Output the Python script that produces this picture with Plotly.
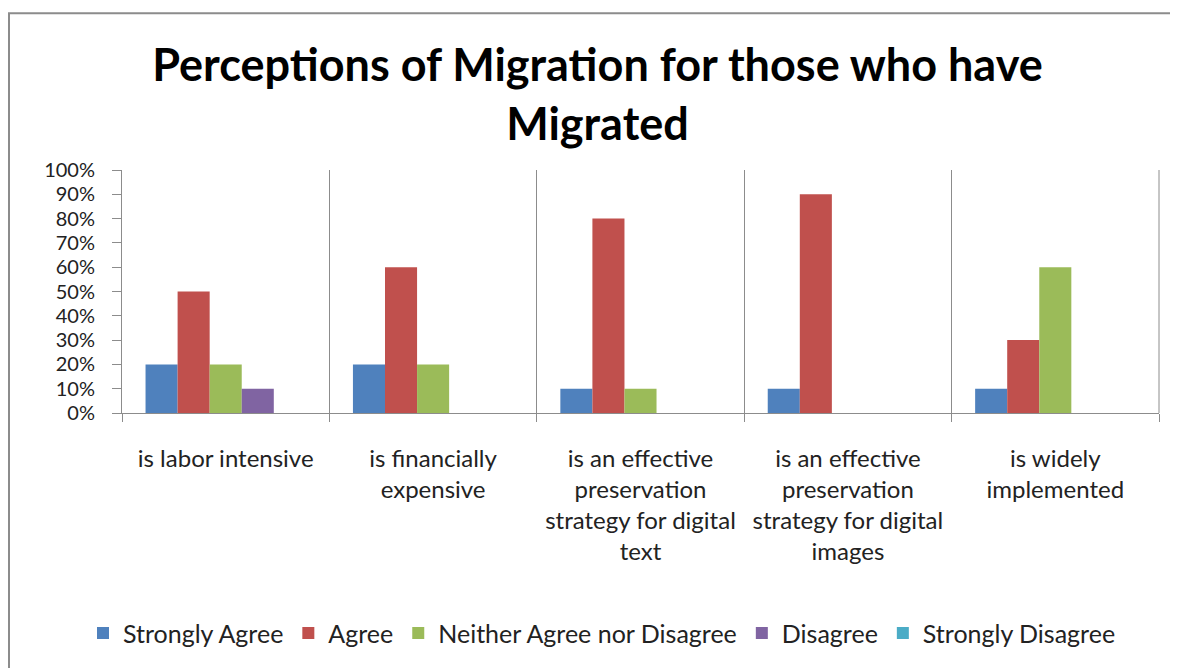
import plotly.graph_objects as go

categories = [
    "is labor intensive",
    "is financially<br>expensive",
    "is an effective<br>preservation<br>strategy for digital<br>text",
    "is an effective<br>preservation<br>strategy for digital<br>images",
    "is widely<br>implemented",
]
strongly_agree = [0.20, 0.20, 0.10, 0.10, 0.10]
agree = [0.50, 0.60, 0.80, 0.90, 0.30]
neither = [0.20, 0.20, 0.10, 0.00, 0.60]
disagree = [0.10, 0.00, 0.00, 0.00, 0.00]
strongly_disagree = [0.00, 0.00, 0.00, 0.00, 0.00]

series = [
    ("Strongly Agree", strongly_agree, "#4F81BD"),
    ("Agree", agree, "#C0504D"),
    ("Neither Agree nor Disagree", neither, "#9BBB59"),
    ("Disagree", disagree, "#8064A2"),
    ("Strongly Disagree", strongly_disagree, "#4BACC6"),
]

# page body has an 8px margin, so figure coords = screen coords - 8
W, H = 1170, 660
L, R, T, B = 114, 19, 162, 253
pw, ph = W - L - R, H - T - B

fig = go.Figure()
for name, vals, col in series:
    fig.add_trace(go.Bar(x=categories, y=vals, name=name, marker_color=col,
                         marker_line_width=0))

FONT = "Lato"
fig.update_layout(
    width=W, height=H,
    margin=dict(l=L, r=R, t=T, b=B),
    paper_bgcolor="white", plot_bgcolor="white",
    barmode="group", bargap=0.227, bargroupgap=0,
    font=dict(family=FONT, color="#222222"),
    title=dict(text="<b>Perceptions of Migration for those who have<br>Migrated</b>",
               x=589.5 / W, xanchor="center", y=(H - 73) / H, yanchor="middle",
               font=dict(size=45, color="black", family=FONT)),
    legend=dict(orientation="h", x=(594 - L) / pw, xanchor="center",
                y=(T + ph - 629) / ph, yanchor="middle",
                font=dict(size=25, family=FONT, color="#222222"),
                itemwidth=30, traceorder="normal"),
    showlegend=True,
)
fig.update_xaxes(
    showline=True, linecolor="#8c8c8c", linewidth=1,
    ticks="outside", ticklen=8, tickcolor="#8c8c8c", tickson="boundaries",
    showgrid=True, gridcolor="#8c8c8c", gridwidth=1,
    tickfont=dict(size=24, family=FONT, color="#222222"),
    ticklabelstandoff=24,
    fixedrange=True,
)
fig.update_yaxes(
    range=[0, 1], tickformat=".0%", dtick=0.1,
    showline=True, linecolor="#8c8c8c", linewidth=1,
    ticks="outside", ticklen=9, tickcolor="#8c8c8c",
    showgrid=False, zeroline=False,
    tickfont=dict(size=20, family=FONT, color="#222222"),
    ticklabelstandoff=13,
)
# right boundary line of the plot area
fig.add_shape(type="line", xref="paper", yref="paper", x0=1, x1=1, y0=0, y1=1,
              line=dict(color="#8c8c8c", width=1))
# chart border
fig.add_shape(type="rect", xref="paper", yref="paper",
              x0=(1 - L) / pw, x1=(W + 10 - L) / pw,
              y0=(T + ph - (H + 10)) / ph, y1=(T + ph - 4) / ph,
              line=dict(color="#8c8c8c", width=2), fillcolor="rgba(0,0,0,0)",
              layer="below")

fig.write_html("out.html")
